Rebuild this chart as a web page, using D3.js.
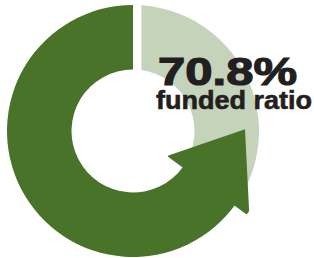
<!DOCTYPE html>
<html>
<head>
<meta charset="utf-8">
<script src="https://cdn.jsdelivr.net/npm/d3@7"></script>
<style>
  html, body { margin: 0; padding: 0; background: #fff; }
  svg { display: block; }
</style>
</head>
<body>
<script>
// chart data
const categories = ["funded", "unfunded"];
const values = [70.8, 29.2];
const labelTop = d3.format(".1f")(values[0]) + "%";
const labelBottom = "funded ratio";

const width = 314, height = 258;
const cx = 133, cy = 131;
const rIn = 61.5, rOut = 126;
const darkGreen = "#4a732a", lightGreen = "#c5d3bb";

// arrow geometry (degrees relative to the funded/unfunded boundary)
const backDeg = 20, tipDeg = 16;
const rad = Math.PI / 180;

const svg = d3.select("body").append("svg")
    .attr("width", width)
    .attr("height", height);

const g = svg.append("g").attr("transform", `translate(${cx},${cy})`);

const total = d3.sum(values);
const angle = d3.scaleLinear().domain([0, total]).range([0, 2 * Math.PI]);

// boundary angle, measured clockwise from top: unfunded share comes first
const boundary = angle(values[1]);
const baseA = boundary + backDeg * rad;

const arc = d3.arc().innerRadius(rIn).outerRadius(rOut);

// unfunded (light) part, gap only at the top
g.append("path")
    .attr("d", arc({startAngle: 0, endAngle: baseA, padAngle: 0.12, padRadius: 100}))
    .attr("fill", lightGreen);

// funded (dark) part + arrow head in one path so there is no seam
function polar(a, r){
  return [Math.sin(a) * r, -Math.cos(a) * r];
}
const head = [
  polar(baseA - 0.01, 43),
  polar(boundary - tipDeg * rad, 112),
  polar(baseA - 0.01, 141),
  polar(baseA + 0.02, 141),
  polar(baseA + 0.02, 43)
];
g.append("path")
    .attr("d", arc({startAngle: baseA, endAngle: 2 * Math.PI}) + d3.line()(head) + "Z")
    .attr("fill", darkGreen);

// labels
svg.append("text")
    .attr("x", 158)
    .attr("y", 85)
    .attr("font-family", "'Liberation Sans', Arial, sans-serif")
    .attr("font-weight", "bold")
    .attr("font-size", 39)
    .attr("textLength", 139)
    .attr("lengthAdjust", "spacingAndGlyphs")
    .attr("fill", "#231f20")
    .attr("stroke", "#231f20")
    .attr("stroke-width", 1.2)
    .text(labelTop);

svg.append("text")
    .attr("x", 156)
    .attr("y", 109)
    .attr("font-family", "'Liberation Sans', Arial, sans-serif")
    .attr("font-weight", "bold")
    .attr("font-size", 25)
    .attr("textLength", 156)
    .attr("lengthAdjust", "spacingAndGlyphs")
    .attr("fill", "#231f20")
    .attr("stroke", "#231f20")
    .attr("stroke-width", 0.6)
    .text(labelBottom);
</script>
</body>
</html>
